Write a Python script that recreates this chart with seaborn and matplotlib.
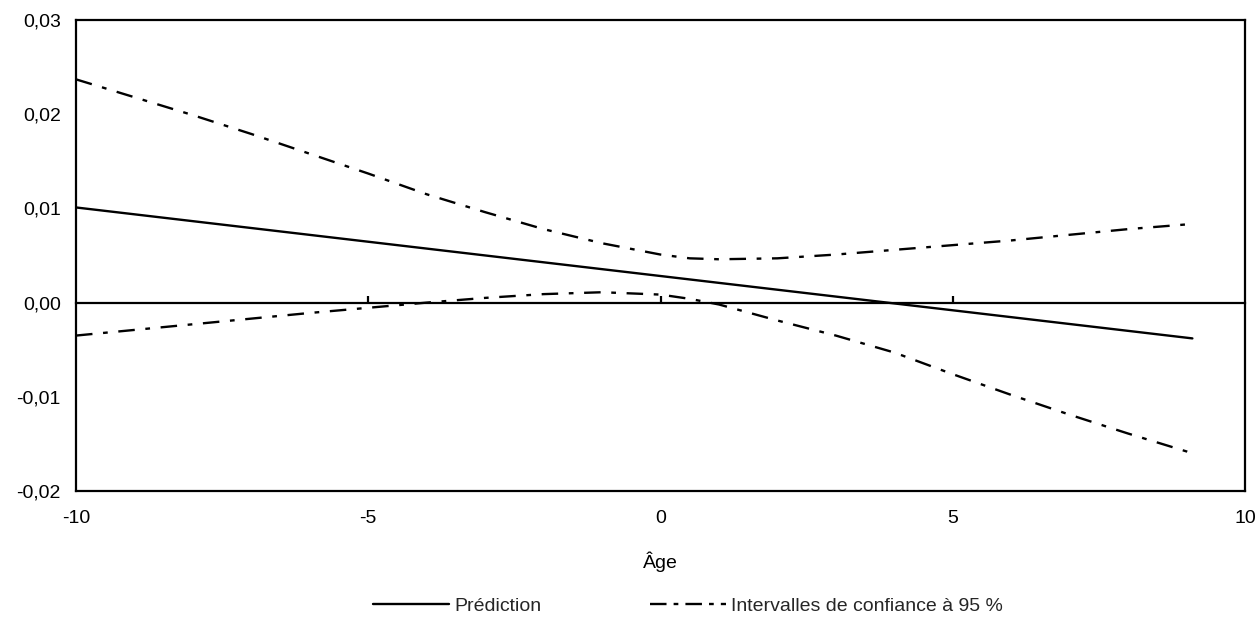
import matplotlib
matplotlib.use("Agg")
import matplotlib.pyplot as plt
from matplotlib.lines import Line2D
from matplotlib.ticker import FuncFormatter, FixedLocator
import seaborn as sns
import pandas as pd

# ---- data ----
pred_age = [-10, 9.1]
pred_val = [0.0101, -0.0038]

ci_age = [-10, -9, -8, -7, -6, -5, -4, -3, -2, -1, 0, 0.5, 1, 2, 3, 4, 5, 6, 7, 8, 9, 9.1]
ci_upper = [0.0237, 0.0218, 0.0199, 0.0179, 0.0158, 0.0137, 0.0115, 0.0096, 0.0078, 0.0063,
            0.0051, 0.0047, 0.0046, 0.0047, 0.0051, 0.0056, 0.0061, 0.0066, 0.0072, 0.0078,
            0.0083, 0.0084]
ci_lower = [-0.0035, -0.0029, -0.0023, -0.0017, -0.0011, -0.00055, 0.0000, 0.0005, 0.0009,
            0.0011, 0.00085, 0.0004, -0.0002, -0.0019, -0.0035, -0.0053, -0.0076, -0.0098,
            -0.0119, -0.0139, -0.0158, -0.0161]

x_ticks = [-10, -5, 0, 5, 10]
y_ticks = [-0.02, -0.01, 0.00, 0.01, 0.02, 0.03]
x_label = "Âge"
legend_labels = ["Prédiction", "Intervalles de confiance à 95 %"]

FS = 14

sns.set_theme(style="white")
plt.rcParams["font.family"] = ["Liberation Sans", "DejaVu Sans"]

fig = plt.figure(figsize=(12.6, 6.2), dpi=100)
ax = fig.add_axes([76 / 1260, 1 - 491 / 620, (1245 - 76) / 1260, (491 - 20) / 620])

df_pred = pd.DataFrame({"age": pred_age, "val": pred_val})
df_ci = pd.DataFrame({"age": ci_age, "up": ci_upper, "lo": ci_lower})

dashdot = (0, (7, 4.5, 2, 4.5))
sns.lineplot(data=df_pred, x="age", y="val", ax=ax, color="black", linewidth=1.7)
sns.lineplot(data=df_ci, x="age", y="up", ax=ax, color="black", linewidth=1.7, linestyle=dashdot)
sns.lineplot(data=df_ci, x="age", y="lo", ax=ax, color="black", linewidth=1.7, linestyle=dashdot)

ax.set_xlim(-10, 10)
ax.set_ylim(-0.02, 0.03)
ax.xaxis.set_major_locator(FixedLocator(x_ticks))
ax.yaxis.set_major_locator(FixedLocator(y_ticks))
ax.yaxis.set_major_formatter(FuncFormatter(lambda v, p: f"{v:.2f}".replace(".", ",")))
ax.xaxis.set_major_formatter(FuncFormatter(lambda v, p: f"{v:.0f}"))
ax.tick_params(axis="both", length=0, labelsize=FS, colors="black")
ax.tick_params(axis="x", pad=14)
ax.tick_params(axis="y", pad=11)

for s in ax.spines.values():
    s.set_visible(True)
    s.set_color("black")
    s.set_linewidth(1.6)

# zero line axis with small inward ticks
sec = ax.secondary_xaxis(0, transform=ax.transData)
sec.xaxis.set_major_locator(FixedLocator(x_ticks[1:-1]))
sec.tick_params(axis="x", direction="in", length=5, width=1.6, colors="black", labelbottom=False)
sec.spines["bottom"].set_linewidth(1.6)
sec.spines["bottom"].set_color("black")

ax.set_xlabel(x_label, fontsize=FS, color="black")
ax.set_ylabel("")
ax.xaxis.set_label_coords(0.5, -(562 - 491) / 471)
ax.xaxis.label.set_va("center")

handles = [Line2D([], [], color="black", linewidth=1.7),
           Line2D([], [], color="black", linewidth=1.7, linestyle=(0, (7, 3, 2, 3)))]
fig.legend(handles, legend_labels, loc="center", bbox_to_anchor=(0.546, 1 - 606 / 620),
           ncol=2, frameon=False, fontsize=FS, handlelength=3.9, handletextpad=0.25,
           columnspacing=5.6)

fig.savefig("out.png", dpi=100)
